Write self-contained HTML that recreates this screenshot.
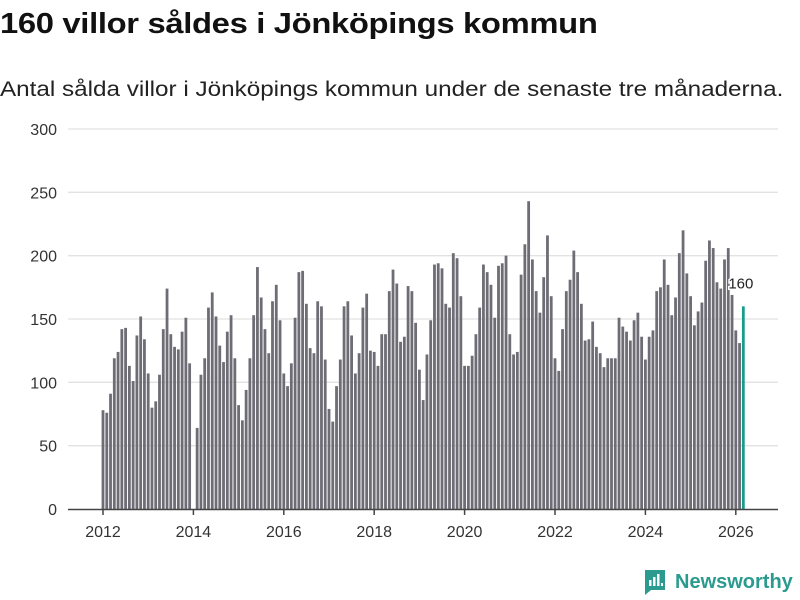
<!DOCTYPE html>
<html><head><meta charset="utf-8">
<style>
html,body{margin:0;padding:0;background:#fff;}
body{width:800px;height:600px;overflow:hidden;position:relative;font-family:"Liberation Sans","DejaVu Sans",sans-serif;}
#title{position:absolute;left:0;top:8px;font-size:29px;font-weight:bold;color:#111;letter-spacing:-0.3px;transform:scaleX(1.13);transform-origin:0 0;white-space:nowrap;}
#subtitle{position:absolute;left:0;top:78px;font-size:21px;color:#222;transform:scaleX(1.155);transform-origin:0 0;white-space:nowrap;}
#logo{position:absolute;left:643px;top:568px;display:flex;align-items:center;}
#logo span{font-size:20px;font-weight:bold;color:#2a9b8e;margin-left:8px;}
</style></head><body>
<div id="title">160 villor såldes i Jönköpings kommun</div>
<div id="subtitle">Antal sålda villor i Jönköpings kommun under de senaste tre månaderna.</div>
<svg id="chart" width="800" height="600" style="position:absolute;left:0;top:0"></svg>
<div id="logo">
<svg width="24" height="28" viewBox="0 0 24 28"><path d="M2 2h20v20H8l-6 5z" fill="#2a9b8e"/><rect x="6" y="12" width="2.5" height="6" fill="#fff"/><rect x="10" y="9" width="2.5" height="9" fill="#fff"/><rect x="14" y="6" width="2.5" height="12" fill="#fff"/><rect x="18" y="15" width="2" height="3" fill="#fff"/></svg>
<span>Newsworthy</span></div>
<script>
const values = [78,76,91,119,124,142,143,113,101,137,152,134,107,80,85,106,142,174,138,128,126,140,151,115,null,64,106,119,159,171,152,129,116,140,153,119,82,70,94,119,153,191,167,142,
123,164,177,149,107,97,115,151,187,188,162,127,123,164,160,118,79,69,97,118,160,164,137,107,123,159,170,125,124,113,138,138,172,189,178,132,136,176,172,147,110,86,122,149,
193,194,190,162,159,202,198,168,113,113,121,138,159,193,187,177,151,192,194,200,138,122,124,185,209,243,197,172,155,183,216,168,119,109,142,172,181,204,187,162,133,134,148,
128,123,112,119,119,119,151,144,140,133,149,155,136,118,136,141,172,175,197,177,153,167,202,220,186,168,145,156,163,196,212,206,179,174,197,206,169,141,131,160];
const startYear = 2012;
const yTicks = [0,50,100,150,200,250,300];
const xTicks = [2012,2014,2016,2018,2020,2022,2024,2026];
const lastLabel = "160";

const NS="http://www.w3.org/2000/svg";
const svg=document.getElementById('chart');
const y0=509, y1=129, yMax=300;
const xYear0=103, pxPerYear=45.2;
function yScale(v){return y0-(v/yMax)*(y0-y1);}
function xScale(t){return xYear0+(t-startYear)*pxPerYear;}
function el(tag,attrs){const e=document.createElementNS(NS,tag);for(const k in attrs)e.setAttribute(k,attrs[k]);svg.appendChild(e);return e;}

yTicks.forEach(v=>{
  if(v>0){const g=el('line',{x1:68,x2:778,y1:yScale(v),y2:yScale(v),stroke:'#e2e2e2','stroke-width':1.3});
  
  }
  const t=el('text',{x:57,y:yScale(v)+6,'text-anchor':'end','font-size':16,fill:'#333','font-family':'"Liberation Sans",sans-serif'});
  t.textContent=v;
  
  
});
const bw=2.8;
values.forEach((v,i)=>{
  if(v==null)return;
  const cx=xScale(startYear+i/12);
  const last=i===values.length-1;
  const r=el('rect',{x:cx-bw/2,y:yScale(v),width:bw,height:y0-yScale(v),fill:last?'#1a9c8c':'#6e6d75'});
  
  
  if(last){
    const t=el('text',{x:cx-15,y:yScale(v)-18,'font-size':15,fill:'#222',stroke:'#fff','stroke-width':3,'paint-order':'stroke','font-family':'"Liberation Sans",sans-serif'});
    t.textContent=lastLabel;
    
    
  }
});
const ax=el('line',{x1:68,x2:778,y1:y0+0.5,y2:y0+0.5,stroke:'#444','stroke-width':1.5});


xTicks.forEach(yr=>{
  const x=xScale(yr);
  const tk=el('line',{x1:x,x2:x,y1:y0,y2:y0+6,stroke:'#444','stroke-width':1.5});
  
  
  const t=el('text',{x:x,y:537,'text-anchor':'middle','font-size':16,fill:'#333','font-family':'"Liberation Sans",sans-serif'});
  t.textContent=yr;
  
  
});
</script>
</body></html>
